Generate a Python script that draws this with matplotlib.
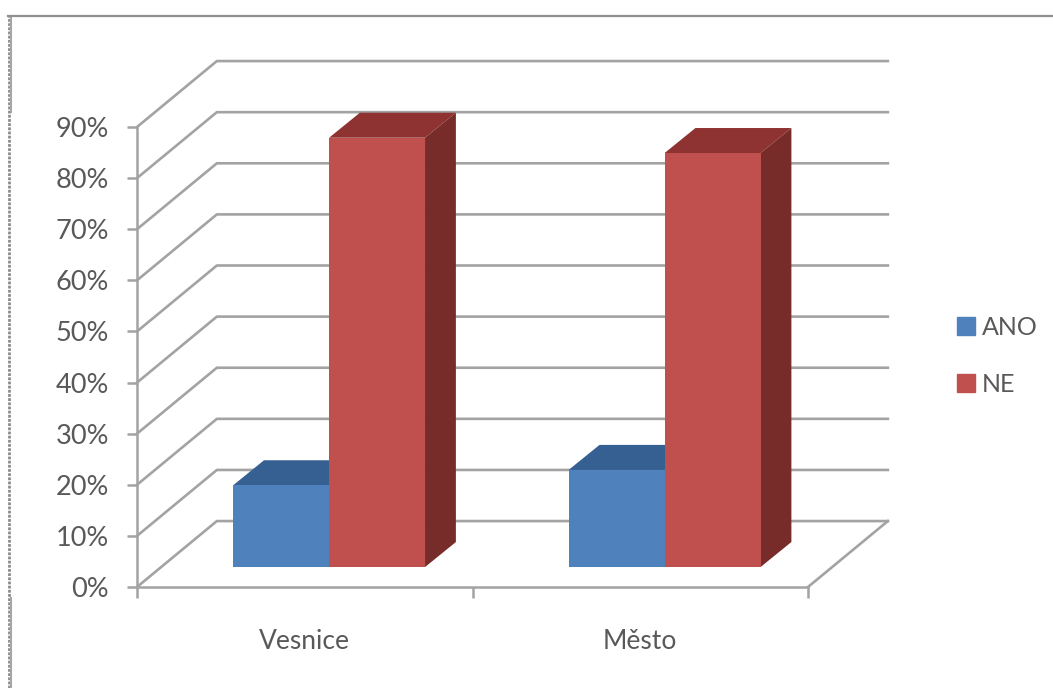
import matplotlib
matplotlib.use("Agg")
import matplotlib.pyplot as plt
from matplotlib.lines import Line2D
from matplotlib.patches import Polygon, Rectangle

plt.rcParams["font.family"] = ["Lato", "DejaVu Sans"]

categories = ["Vesnice", "Město"]
series_names = ["ANO", "NE"]
ano_values = [16, 19]
ne_values = [84, 81]
y_ticks = [0, 10, 20, 30, 40, 50, 60, 70, 80, 90]

W, H = 1053, 688
GRID = "#a3a3a3"
TEXT = "#595959"
BLUE = ("#4f81bd", "#376092")  # front, top
RED = ("#c0504d", "#8e3331", "#772c2a")  # front, top, side

# 3d look, in data units
DEPTH_X, DEPTH_Y = 0.238, 12.9
BAR_DX, BAR_DY = 0.0715, 3.9  # front of bars sits this far into the floor
BAR_SIDE_X, BAR_SIDE_Y = 0.092, 4.9
BAR_W = 0.286
BAR_START = 0.215

fig = plt.figure(figsize=(W / 100, H / 100), dpi=100)
ax = fig.add_axes([137 / W, 1 - 587 / H, (808 - 137) / W, (587 - 127) / H])
ax.set_xlim(0, 2)
ax.set_ylim(0, 90)
ax.patch.set_visible(False)

for s in ["top", "right"]:
    ax.spines[s].set_visible(False)
for s in ["left", "bottom"]:
    ax.spines[s].set_color(GRID)
    ax.spines[s].set_linewidth(1.8)

ax.set_yticks(y_ticks)
ax.set_yticklabels([f"{v}%" for v in y_ticks])
ax.set_xticks([0, 1, 2])
ax.set_xticklabels([])
ax.set_xticks([0.5, 1.5], minor=True)
ax.set_xticklabels(categories, minor=True)
ax.tick_params(axis="y", length=7, width=1.8, color=GRID, labelcolor=TEXT,
               labelsize=19.5, pad=13)
ax.tick_params(axis="x", which="major", length=8, width=1.8, color=GRID)
ax.tick_params(axis="x", which="minor", length=0, labelcolor=TEXT,
               labelsize=19, pad=30)

# walls
for v in y_ticks:
    ax.plot([0, DEPTH_X, 2 + DEPTH_X], [v, v + DEPTH_Y, v + DEPTH_Y],
            color=GRID, lw=1.9, clip_on=False, zorder=1)
ax.plot([2, 2 + DEPTH_X], [0, DEPTH_Y], color=GRID, lw=1.9, clip_on=False, zorder=1)


def draw_bar(x, h, front, top, side=None, z=3):
    x0 = x + BAR_DX
    x1 = x0 + BAR_W
    y0 = BAR_DY
    y1 = BAR_DY + h
    sx, sy = BAR_SIDE_X, BAR_SIDE_Y
    ax.add_patch(Polygon([(x0, y1), (x0 + sx, y1 + sy), (x1 + sx, y1 + sy), (x1, y1)],
                         color=top, lw=0, clip_on=False, zorder=z))
    if side:
        ax.add_patch(Polygon([(x1, y0), (x1 + sx, y0 + sy), (x1 + sx, y1 + sy), (x1, y1)],
                             color=side, lw=0, clip_on=False, zorder=z))
    ax.add_patch(Rectangle((x0, y0), BAR_W, h, color=front, lw=0, clip_on=False, zorder=z + 0.5))


for i in range(len(categories)):
    draw_bar(i + BAR_START, ano_values[i], BLUE[0], BLUE[1], z=3)
    draw_bar(i + BAR_START + BAR_W, ne_values[i], RED[0], RED[1], RED[2], z=4)

# legend
handles = [
    Line2D([], [], marker="s", ls="", ms=13, color=BLUE[0]),
    Line2D([], [], marker="s", ls="", ms=13, color=RED[0]),
]
fig.legend(handles, series_names, loc="center left", bbox_to_anchor=(951 / W, 1 - 356 / H),
           frameon=False, fontsize=18, labelcolor=TEXT, handletextpad=0.05,
           labelspacing=1.35, handlelength=1.2, borderpad=0, borderaxespad=0)

# screenshot frame
fig.add_artist(Line2D([8.5 / W, 8.5 / W], [0, 1 - 16 / H], color="#8c8c8c", lw=2, ls=(0, (1, 0.5))))
fig.add_artist(Line2D([11 / W, 11 / W], [1 - 16 / H, 1 - 112 / H], color="#a6a6a6", lw=1.5))
fig.add_artist(Line2D([11 / W, 11 / W], [1 - 598 / H, 0], color="#a6a6a6", lw=1.5))
fig.add_artist(Line2D([8 / W, 1], [1 - 16 / H, 1 - 16 / H], color="#8f8f8f", lw=1.6))

fig.savefig("out.png", dpi=100)
